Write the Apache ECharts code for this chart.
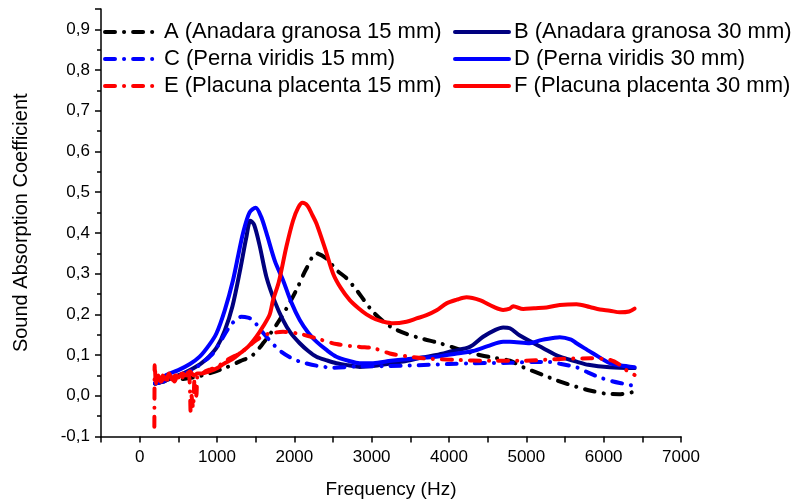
<!DOCTYPE html>
<html>
<head>
<meta charset="utf-8">
<script src="https://cdn.jsdelivr.net/npm/echarts@6/dist/echarts.min.js"></script>
<style>html,body{margin:0;padding:0;background:#fff}#c{width:799px;height:502px}</style>
</head>
<body>
<div id="c"></div>
<script>
// ---- data (Frequency Hz, Sound Absorption Coefficient) ----
var seriesNames = [
  'A (Anadara granosa 15 mm)', 'B (Anadara granosa 30 mm)',
  'C (Perna viridis 15 mm)', 'D (Perna viridis 30 mm)',
  'E (Placuna placenta 15 mm)', 'F (Placuna placenta 30 mm)'
];
var xTicks = [0, 1000, 2000, 3000, 4000, 5000, 6000, 7000];
var yTicks = [-0.1, 0.0, 0.1, 0.2, 0.3, 0.4, 0.5, 0.6, 0.7, 0.8, 0.9];

var aFreq = [200,300,500,700,900,1100,1300,1450,1600,1768,1900,2027,2150,2286,2416,2544,2674,2803,2900,3018,3150,3277,3450,3660,3881,4100,4312,4530,4787,4960,5218,5390,5649,5820,6038,6200,6400];
var aVal  = [0.03,0.035,0.04,0.045,0.055,0.068,0.085,0.098,0.13,0.174,0.215,0.26,0.31,0.35,0.337,0.309,0.289,0.26,0.235,0.206,0.183,0.166,0.152,0.14,0.129,0.116,0.104,0.095,0.086,0.07,0.051,0.038,0.022,0.013,0.005,0.004,0.01];

var bFreq = [200,300,400,500,600,700,800,900,1000,1100,1200,1300,1380,1432,1480,1550,1639,1750,1854,1950,2070,2180,2286,2420,2544,2700,2846,3018,3200,3406,3650,3838,4050,4269,4441,4600,4700,4787,4916,5218,5433,5649,5800,6080,6400];
var bVal  = [0.03,0.035,0.042,0.05,0.058,0.068,0.08,0.097,0.12,0.16,0.22,0.31,0.39,0.43,0.42,0.37,0.292,0.23,0.186,0.155,0.129,0.11,0.096,0.087,0.08,0.075,0.071,0.073,0.078,0.084,0.094,0.1,0.11,0.12,0.145,0.162,0.168,0.166,0.148,0.117,0.096,0.084,0.076,0.07,0.068];

var cFreq = [200,300,400,500,600,700,800,900,949,1050,1164,1250,1315,1400,1466,1550,1639,1740,1833,1950,2070,2286,2502,2800,3200,3600,4000,4312,4787,5100,5300,5450,5649,5800,5951,6123,6250,6400];
var cVal  = [0.03,0.035,0.04,0.045,0.055,0.065,0.08,0.095,0.104,0.135,0.17,0.188,0.194,0.192,0.186,0.165,0.145,0.124,0.108,0.094,0.084,0.074,0.069,0.072,0.073,0.075,0.078,0.08,0.081,0.083,0.083,0.078,0.07,0.057,0.045,0.035,0.03,0.024];

var dFreq = [200,345,500,650,776,900,992,1100,1207,1280,1337,1420,1500,1570,1639,1750,1854,1960,2070,2180,2286,2420,2544,2700,2846,3018,3250,3450,3700,3881,4100,4312,4500,4700,4787,5045,5175,5350,5433,5580,5649,5750,5865,6080,6210,6400];
var dVal  = [0.032,0.051,0.063,0.078,0.096,0.125,0.153,0.21,0.284,0.35,0.4,0.45,0.462,0.44,0.4,0.33,0.284,0.23,0.186,0.155,0.133,0.112,0.096,0.086,0.08,0.08,0.086,0.09,0.094,0.097,0.104,0.11,0.122,0.133,0.133,0.129,0.136,0.142,0.144,0.138,0.129,0.117,0.104,0.08,0.075,0.07];

var eFreq = [190,192,194,200,220,250,280,320,360,400,450,500,550,600,640,660,670,690,710,733,750,780,850,920,1000,1100,1200,1300,1400,1509,1600,1682,1854,2070,2286,2544,2846,3018,3234,3450,3665,4097,4528,4959,5390,5821,6080,6210,6300,6400];
var eVal  = [-0.076,0.02,0.075,0.04,0.03,0.045,0.035,0.05,0.04,0.05,0.035,0.055,0.045,0.06,0.05,-0.04,0.0,-0.03,0.04,0.0,0.05,0.05,0.06,0.065,0.07,0.085,0.095,0.105,0.12,0.137,0.147,0.153,0.157,0.152,0.141,0.127,0.12,0.117,0.104,0.097,0.092,0.088,0.086,0.086,0.09,0.092,0.088,0.076,0.062,0.051];

var fFreq = [200,210,240,270,300,340,380,420,460,500,550,600,650,700,750,800,900,992,1100,1200,1294,1400,1509,1595,1682,1725,1800,1897,1983,2050,2105,2170,2230,2286,2400,2502,2600,2717,2830,2933,3050,3150,3277,3450,3580,3709,3840,3968,4100,4226,4398,4571,4700,4787,4830,4960,5100,5261,5433,5649,5821,5951,6080,6210,6330,6400];
var fVal  = [0.06,0.03,0.05,0.035,0.05,0.04,0.055,0.04,0.05,0.045,0.055,0.05,0.06,0.05,0.055,0.055,0.06,0.067,0.08,0.09,0.104,0.12,0.145,0.17,0.2,0.235,0.28,0.366,0.43,0.462,0.474,0.467,0.445,0.423,0.36,0.3,0.265,0.235,0.215,0.2,0.188,0.182,0.178,0.182,0.19,0.198,0.21,0.227,0.236,0.242,0.235,0.219,0.211,0.214,0.22,0.213,0.215,0.217,0.223,0.225,0.218,0.212,0.209,0.205,0.207,0.214];

// ---- chart ----
var FONT = 'Liberation Sans, Arial, sans-serif';
function pairs(xs, ys) { return xs.map(function (x, i) { return [x, ys[i]]; }); }
var dashDot = [10, 9, 0.1, 9];
var styles = [
  { color: '#000000', type: dashDot },
  { color: '#00007f', type: 'solid' },
  { color: '#0000ff', type: dashDot },
  { color: '#0000ff', type: 'solid' },
  { color: '#ff0000', type: dashDot },
  { color: '#ff0000', type: 'solid' }
];
var datasets = [pairs(aFreq, aVal), pairs(bFreq, bVal), pairs(cFreq, cVal), pairs(dFreq, dVal), pairs(eFreq, eVal), pairs(fFreq, fVal)];

var series = seriesNames.map(function (n, i) {
  return {
    name: n, type: 'line', data: datasets[i], showSymbol: false, symbol: 'none',
    smooth: 0.3, color: styles[i].color,
    lineStyle: { color: styles[i].color, width: 4, type: styles[i].type, cap: 'round', join: 'round' }
  };
});

var chart = echarts.init(document.getElementById('c'), null, { renderer: 'canvas' });
var legendCommon = {
  orient: 'vertical', itemWidth: 54, itemHeight: 14, itemGap: 5, padding: 0,
  textStyle: { fontFamily: FONT, fontSize: 22, color: '#000' },
  itemStyle: { opacity: 0, borderWidth: 0 },
  lineStyle: { width: 4 }, selectedMode: false
};
chart.setOption({
  animation: false,
  backgroundColor: '#fff',
  grid: { left: 101, right: 118, top: 9, bottom: 65.5, containLabel: false, outerBoundsMode: 'none' },
  legend: [
    Object.assign({ left: 103, top: 21, data: [seriesNames[0], seriesNames[2], seriesNames[4]] }, legendCommon),
    Object.assign({ left: 453, top: 21, data: [seriesNames[1], seriesNames[3], seriesNames[5]] }, legendCommon)
  ],
  xAxis: {
    type: 'value', min: -500, max: 7000, interval: 500,
    name: 'Frequency (Hz)', nameLocation: 'middle', nameGap: 44,
    nameTextStyle: { fontFamily: FONT, fontSize: 19, color: '#000' },
    axisLine: { show: true, onZero: false, lineStyle: { color: '#000', width: 1.5 } },
    axisTick: { show: true, inside: false, length: 6, lineStyle: { color: '#000', width: 1.5 } },
    axisLabel: {
      fontFamily: FONT, fontSize: 17, color: '#000', margin: 12,
      formatter: function (v) { return xTicks.indexOf(v) >= 0 ? String(v) : ''; }
    },
    splitLine: { show: false }
  },
  yAxis: {
    type: 'value', min: -0.1, max: 0.95, interval: 0.1,
    name: 'Sound Absorption Coefficient', nameLocation: 'middle', nameGap: 70,
    nameTextStyle: { fontFamily: FONT, fontSize: 20, color: '#000' },
    axisLine: { show: true, onZero: false, lineStyle: { color: '#000', width: 1.5 } },
    axisTick: { show: true, inside: false, length: 6, lineStyle: { color: '#000', width: 1.5 } },
    minorTick: { show: true, splitNumber: 2, length: 4, lineStyle: { color: '#000', width: 1.5 } },
    axisLabel: {
      fontFamily: FONT, fontSize: 17, color: '#000', margin: 11,
      formatter: function (v) {
        for (var k = 0; k < yTicks.length; k++) {
          if (Math.abs(yTicks[k] - v) < 1e-6) return yTicks[k].toFixed(1).replace('.', ',');
        }
        return '';
      }
    },
    splitLine: { show: false }
  },
  series: series
});
</script>
</body>
</html>
